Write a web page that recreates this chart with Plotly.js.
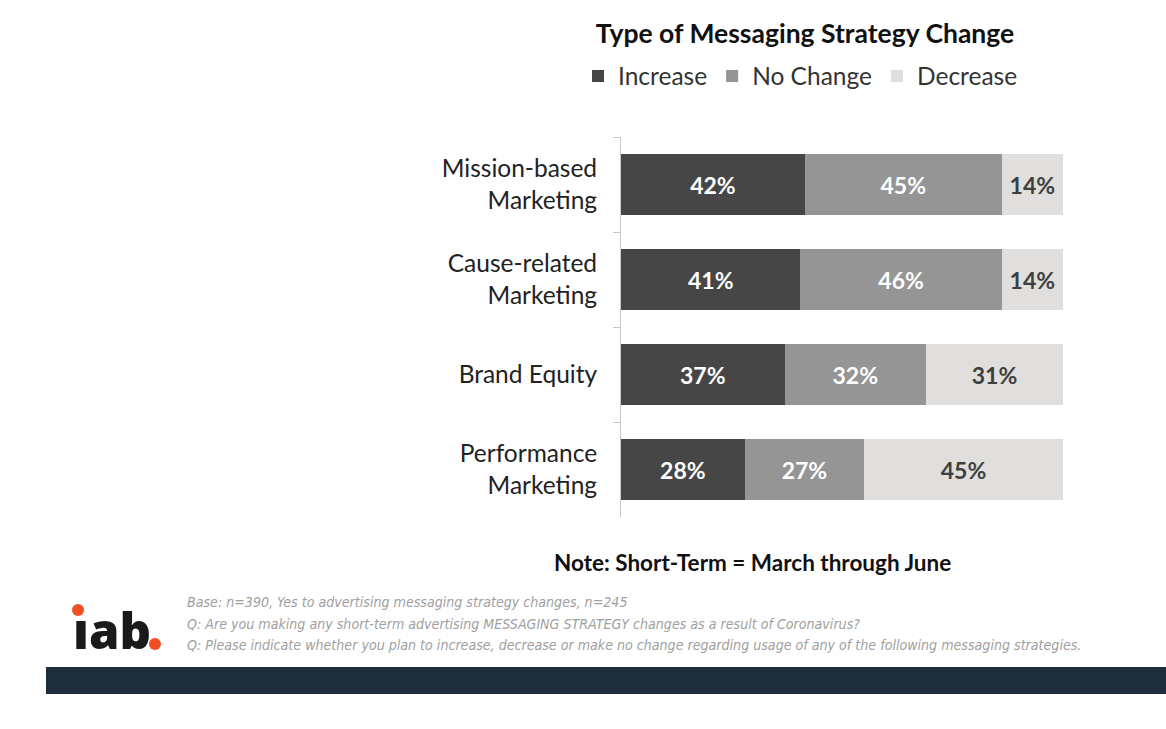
<!DOCTYPE html>
<html>
<head>
<meta charset="utf-8">
<script src="https://cdn.plot.ly/plotly-3.0.1.min.js"></script>
<style>
html,body{margin:0;padding:0;background:#fff;}
#chart{width:1166px;height:729px;}
</style>
</head>
<body>
<div id="chart"></div>
<script>
const categories = ["Mission-based<br>Marketing", "Cause-related<br>Marketing", "Brand Equity", "Performance<br>Marketing"];
const increase = [42, 41, 37, 28];
const noChange = [45, 46, 32, 27];
const decrease = [14, 14, 31, 45];
const seriesNames = ["Increase", "No Change", "Decrease"];
const footerLines = [
  "Base: n=390, Yes to advertising messaging strategy changes, n=245",
  "Q: Are you making any short-term advertising MESSAGING STRATEGY changes as a result of Coronavirus?",
  "Q: Please indicate whether you plan to increase, decrease or make no change regarding usage of any of the following messaging strategies."
];

const FONT = "Lato, 'Open Sans', sans-serif";
const colors = ["#464646", "#959595", "#e0dfdd"];
const textColors = ["#ffffff", "#ffffff", "#3f3f3f"];
const seriesData = [increase, noChange, decrease];

const PL = 621, PR = 1063, PT = 137, PB = 517;
const PW = PR - PL, PH = PB - PT;
const px = x => (x - PL) / PW;
const py = y => (PB - y) / PH;

const traces = seriesData.map((vals, i) => ({
  type: "bar",
  orientation: "h",
  name: seriesNames[i],
  y: categories,
  x: vals,
  text: vals.map(v => v + "%"),
  textposition: "inside",
  insidetextanchor: "middle",
  constraintext: "none",
  textfont: {family: FONT, size: 23, color: textColors[i], weight: "bold"},
  marker: {color: colors[i], line: {width: 0}},
  width: 0.64,
  hoverinfo: "none"
}));

const layout = {
  width: 1166,
  height: 729,
  margin: {l: PL, r: 1166 - PR, t: PT, b: 729 - PB},
  paper_bgcolor: "#ffffff",
  plot_bgcolor: "#ffffff",
  barmode: "stack",
  barnorm: "percent",
  showlegend: true,
  title: {
    text: "<b>Type of Messaging Strategy Change</b>",
    font: {family: FONT, size: 26.5, color: "#111111"},
    x: px(805), xanchor: "center", xref: "paper",
    y: 1 - 34/729, yanchor: "middle", yref: "container"
  },
  legend: {
    orientation: "h",
    traceorder: "normal",
    x: px(578), y: py(76), xanchor: "left", yanchor: "middle",
    font: {family: FONT, size: 24.5, color: "#333333"},
    bgcolor: "rgba(0,0,0,0)"
  },
  xaxis: {
    range: [0, 100],
    visible: false,
    fixedrange: true
  },
  yaxis: {
    type: "category",
    autorange: "reversed",
    tickson: "boundaries",
    ticks: "outside",
    ticklen: 7,
    tickcolor: "#c8c8c8",
    showline: true,
    linecolor: "#c8c8c8",
    linewidth: 1,
    showgrid: false,
    ticklabelstandoff: 18,
    tickfont: {family: FONT, size: 24.5, color: "#222222"},
    fixedrange: true
  },
  shapes: [
    {type: "rect", xref: "paper", yref: "paper", x0: px(46), x1: px(1166),
     y0: py(667), y1: py(694), fillcolor: "#1e2d3b", line: {width: 0}},
    {type: "circle", xref: "paper", yref: "paper",
     x0: px(72), x1: px(84), y0: py(616), y1: py(604),
     fillcolor: "#f04e23", line: {width: 0}},
    {type: "circle", xref: "paper", yref: "paper",
     x0: px(149), x1: px(161), y0: py(650), y1: py(638),
     fillcolor: "#f04e23", line: {width: 0}}
  ],
  annotations: [
    {text: "<b>Note: Short-Term = March through June</b>", xref: "paper", yref: "paper",
     x: px(752), y: py(562), xanchor: "center", yanchor: "middle", showarrow: false,
     font: {family: FONT, size: 22.5, color: "#111111"}},
    {text: "ıab", xref: "paper", yref: "paper",
     x: px(71), y: py(630), xanchor: "left", yanchor: "middle", showarrow: false,
     font: {family: "'Open Sans', 'DejaVu Sans', sans-serif", size: 49, color: "#1a1a1a", weight: 800}}
  ].concat(footerLines.map((t, i) => ({
    text: "<i>" + t + "</i>", xref: "paper", yref: "paper",
    x: px(185), y: py(602 + i * 21.5), xanchor: "left", yanchor: "middle", showarrow: false,
    font: {family: "'DejaVu Sans Condensed', 'Liberation Sans Narrow', sans-serif", size: 14.1, color: "#a0a0a0"}
  })))
};

Plotly.newPlot("chart", traces, layout, {staticPlot: true, displayModeBar: false});
</script>
</body>
</html>
